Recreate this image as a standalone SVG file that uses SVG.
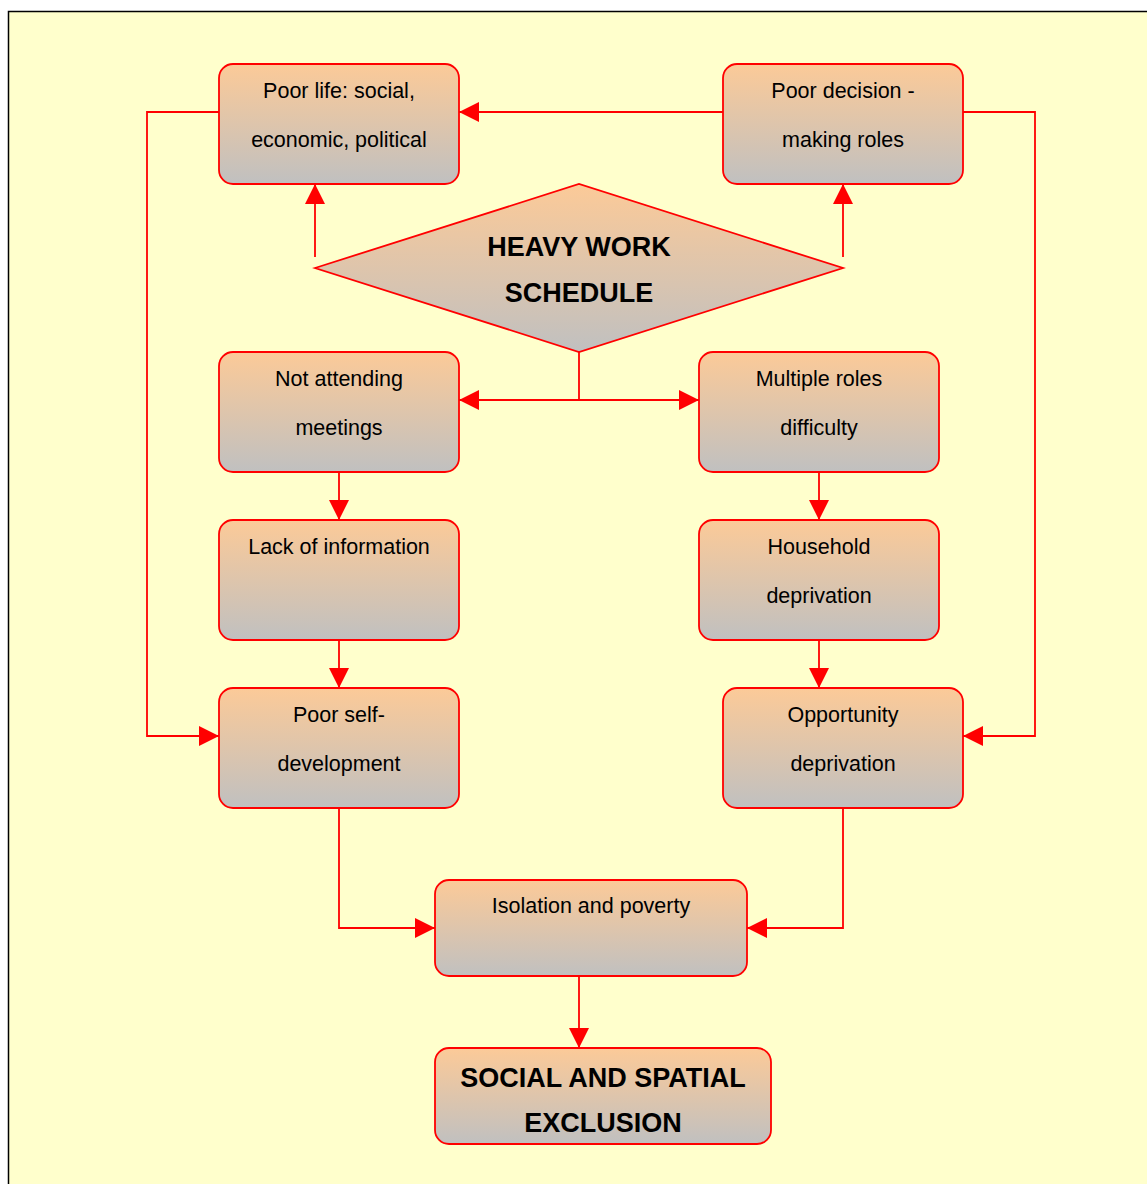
<svg xmlns="http://www.w3.org/2000/svg" width="1147" height="1184" viewBox="0 0 1147 1184">
<defs>
<linearGradient id="g" x1="0" y1="0" x2="0" y2="1">
<stop offset="0" stop-color="#FCCA98"/>
<stop offset="1" stop-color="#C0C0C0"/>
</linearGradient>
<marker id="ah" viewBox="0 0 20 20" refX="20" refY="10" markerWidth="20" markerHeight="20" markerUnits="userSpaceOnUse" orient="auto">
<path d="M0,0 L20,10 L0,20 Z" fill="#FF0000"/>
</marker>
<style>
.box{fill:url(#g);stroke:#FF0000;stroke-width:1.8}
.t{font-family:"Liberation Sans",Arial,sans-serif;font-size:21.5px;fill:#000;text-anchor:middle}
.b{font-family:"Liberation Sans",Arial,sans-serif;font-size:27px;font-weight:bold;fill:#000;text-anchor:middle}
.c{fill:none;stroke:#FF0000;stroke-width:1.8}
</style>
</defs>
<rect x="0" y="0" width="1147" height="1184" fill="#FFFFFF"/>
<rect x="8.5" y="11.5" width="1150" height="1180" fill="#FFFFCC" stroke="#000" stroke-width="1.5"/>

<g id="connectors">
<path class="c" d="M723,112 H459" marker-end="url(#ah)"/>
<path class="c" d="M219,112 H147 V736 H219" marker-end="url(#ah)"/>
<path class="c" d="M963,112 H1035 V736 H963" marker-end="url(#ah)"/>
<path class="c" d="M315,257 V184" marker-end="url(#ah)"/>
<path class="c" d="M843,257 V184" marker-end="url(#ah)"/>
<path class="c" d="M579,352 V400 H459" marker-end="url(#ah)"/>
<path class="c" d="M579,400 H699" marker-end="url(#ah)"/>
<path class="c" d="M339,472 V520" marker-end="url(#ah)"/>
<path class="c" d="M339,640 V688" marker-end="url(#ah)"/>
<path class="c" d="M819,472 V520" marker-end="url(#ah)"/>
<path class="c" d="M819,640 V688" marker-end="url(#ah)"/>
<path class="c" d="M339,808 V928 H435" marker-end="url(#ah)"/>
<path class="c" d="M843,808 V928 H747" marker-end="url(#ah)"/>
<path class="c" d="M579,976 V1048" marker-end="url(#ah)"/>
</g>

<g id="poor-life">
<rect class="box" x="219" y="64" width="240" height="120" rx="14"/>
<text class="t" x="339" y="98">Poor life: social,</text>
<text class="t" x="339" y="147">economic, political</text>
</g>
<g id="poor-decision">
<rect class="box" x="723" y="64" width="240" height="120" rx="14"/>
<text class="t" x="843" y="98">Poor decision -</text>
<text class="t" x="843" y="147">making roles</text>
</g>
<g id="heavy-work">
<polygon class="box" points="315,268 579,184 843,268 579,352"/>
<text class="b" x="579" y="256">HEAVY WORK</text>
<text class="b" x="579" y="302">SCHEDULE</text>
</g>
<g id="not-attending">
<rect class="box" x="219" y="352" width="240" height="120" rx="14"/>
<text class="t" x="339" y="386">Not attending</text>
<text class="t" x="339" y="435">meetings</text>
</g>
<g id="multiple-roles">
<rect class="box" x="699" y="352" width="240" height="120" rx="14"/>
<text class="t" x="819" y="386">Multiple roles</text>
<text class="t" x="819" y="435">difficulty</text>
</g>
<g id="lack-info">
<rect class="box" x="219" y="520" width="240" height="120" rx="14"/>
<text class="t" x="339" y="554">Lack of information</text>
</g>
<g id="household">
<rect class="box" x="699" y="520" width="240" height="120" rx="14"/>
<text class="t" x="819" y="554">Household</text>
<text class="t" x="819" y="603">deprivation</text>
</g>
<g id="poor-self">
<rect class="box" x="219" y="688" width="240" height="120" rx="14"/>
<text class="t" x="339" y="722">Poor self-</text>
<text class="t" x="339" y="771">development</text>
</g>
<g id="opportunity">
<rect class="box" x="723" y="688" width="240" height="120" rx="14"/>
<text class="t" x="843" y="722">Opportunity</text>
<text class="t" x="843" y="771">deprivation</text>
</g>
<g id="isolation">
<rect class="box" x="435" y="880" width="312" height="96" rx="14"/>
<text class="t" x="591" y="913">Isolation and poverty</text>
</g>
<g id="exclusion">
<rect class="box" x="435" y="1048" width="336" height="96" rx="14"/>
<text class="b" x="603" y="1087">SOCIAL AND SPATIAL</text>
<text class="b" x="603" y="1132">EXCLUSION</text>
</g>
</svg>
